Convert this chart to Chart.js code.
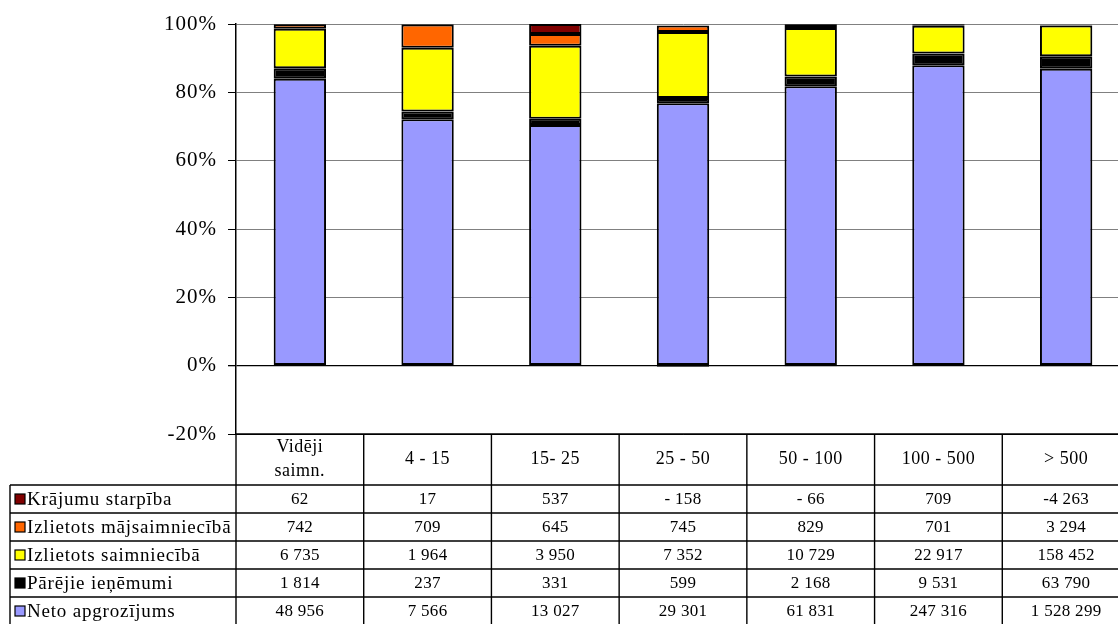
<!DOCTYPE html>
<html>
<head>
<meta charset="utf-8">
<script src="https://cdn.jsdelivr.net/npm/chart.js@4"></script>
<style>
html,body{margin:0;padding:0;background:#fff;overflow:hidden;width:1118px;height:624px;}
#wrap{position:relative;width:1130px;height:624px;}
</style>
</head>
<body>
<div id="wrap"><canvas id="c" width="1130" height="624"></canvas></div>
<script>
// ---- data ----
const categories = [['Vidēji', 'saimn.'], '4 - 15', '15- 25', '25 - 50', '50 - 100', '100 - 500', '> 500'];
const netoApgrozijums = [48956, 7566, 13027, 29301, 61831, 247316, 1528299];
const parejieIenemumi = [1814, 237, 331, 599, 2168, 9531, 63790];
const izlietotsSaimnieciba = [6735, 1964, 3950, 7352, 10729, 22917, 158452];
const izlietotsMajsaimnieciba = [742, 709, 645, 745, 829, 701, 3294];
const krajumuStarpiba = [62, 17, 537, -158, -66, 709, -4263];
const yTicks = [-20, 0, 20, 40, 60, 80, 100];

const seriesDefs = [
  { label: 'Neto apgrozījums', data: netoApgrozijums, color: '#9999FF' },
  { label: 'Pārējie ieņēmumi', data: parejieIenemumi, color: '#000000' },
  { label: 'Izlietots saimniecībā', data: izlietotsSaimnieciba, color: '#FFFF00' },
  { label: 'Izlietots mājsaimniecībā', data: izlietotsMajsaimnieciba, color: '#FF6600' },
  { label: 'Krājumu starpība', data: krajumuStarpiba, color: '#800000' }
];

// 100% stacking (share of the sum of absolute values)
const totals = categories.map((_, i) => seriesDefs.reduce((s, d) => s + Math.abs(d.data[i]), 0));

function fmt(v) {
  const a = Math.abs(v);
  const s = String(a).replace(/\B(?=(\d{3})+(?!\d))/g, ' ');
  if (v < 0) return (a >= 1000 ? '-' : '- ') + s;
  return s;
}

const FONT = '"Liberation Serif", "Times New Roman", serif';

const spacingPlugin = {
  id: 'spacing',
  beforeDraw(chart) { chart.ctx.letterSpacing = '1px'; },
  beforeDatasetsDraw(chart) { chart.ctx.letterSpacing = '0px'; }
};

const tablePlugin = {
  id: 'dataTable',
  afterDraw(chart) {
    const ctx = chart.ctx;
    const x = chart.scales.x;
    const area = chart.chartArea;
    const n = categories.length;
    const colW = (area.right - area.left) / n;
    const top = area.bottom;
    const headerBottom = top + 51;
    const rowH = 28;
    const leftX = 10;
    const bottom = chart.height + 2;
    ctx.save();
    ctx.letterSpacing = '0px';
    ctx.strokeStyle = '#000';
    ctx.lineWidth = 1.4;
    ctx.beginPath();
    ctx.moveTo(area.left, top); ctx.lineTo(area.right + 2, top);
    for (let r = 0; r <= seriesDefs.length; r++) {
      const y = headerBottom + r * rowH;
      ctx.moveTo(leftX, y); ctx.lineTo(area.right + 2, y);
    }
    ctx.moveTo(leftX, headerBottom); ctx.lineTo(leftX, bottom);
    for (let c = 0; c <= n; c++) {
      const xx = area.left + c * colW;
      ctx.moveTo(xx, top); ctx.lineTo(xx, bottom);
    }
    ctx.stroke();

    ctx.fillStyle = '#000';
    ctx.textAlign = 'center';
    ctx.textBaseline = 'middle';
    ctx.font = '18px ' + FONT;
    ctx.letterSpacing = '0.5px';
    categories.forEach((lab, i) => {
      const cx = x.getPixelForValue(i);
      const lines = Array.isArray(lab) ? lab : [lab];
      const lh = 24;
      const cy = (top + headerBottom) / 2;
      lines.forEach((l, k) => {
        ctx.fillText(l, cx, cy + (k - (lines.length - 1) / 2) * lh);
      });
    });
    const rows = seriesDefs.slice().reverse();
    rows.forEach((s, r) => {
      const cy = headerBottom + r * rowH + rowH / 2 + 1;
      ctx.fillStyle = s.color;
      ctx.fillRect(15, cy - 6, 10, 10);
      ctx.strokeStyle = '#000';
      ctx.lineWidth = 1.2;
      ctx.strokeRect(15, cy - 6, 10, 10);
      ctx.fillStyle = '#000';
      ctx.textAlign = 'left';
      ctx.font = '19px ' + FONT;
      ctx.letterSpacing = '0.8px';
      ctx.fillText(s.label, 27, cy);
      ctx.textAlign = 'center';
      ctx.font = '17px ' + FONT;
      ctx.letterSpacing = '0.3px';
      s.data.forEach((v, i) => {
        ctx.fillText(fmt(v), x.getPixelForValue(i), cy);
      });
    });
    ctx.restore();
  }
};

new Chart(document.getElementById('c'), {
  type: 'bar',
  data: {
    labels: categories,
    datasets: seriesDefs.map(d => ({
      label: d.label,
      data: d.data.map((v, i) => v / totals[i] * 100),
      backgroundColor: d.color,
      borderColor: '#000',
      borderWidth: 2,
      borderSkipped: false,
      barPercentage: 0.41,
      categoryPercentage: 1
    }))
  },
  options: {
    responsive: false,
    animation: false,
    devicePixelRatio: 1,
    layout: { padding: { top: 24, left: 0, right: 0, bottom: 0 } },
    plugins: { legend: { display: false }, tooltip: { enabled: false } },
    scales: {
      x: {
        stacked: true,
        grid: { display: false },
        border: { display: false },
        ticks: { display: false },
        afterFit(scale) { scale.height = 190; }
      },
      y: {
        stacked: true,
        min: -20,
        max: 100,
        afterBuildTicks(scale) { scale.ticks = yTicks.map(v => ({ value: v })); },
        ticks: {
          padding: 11,
          color: '#000',
          font: { family: FONT, size: 21 },
          callback: v => v + '%'
        },
        grid: {
          color: c => (c.tick && (c.tick.value === 0 || c.tick.value === -20)) ? '#000' : '#808080',
          lineWidth: c => (c.tick && c.tick.value === 0) ? 1.3 : 1,
          tickColor: '#000',
          tickLength: 8
        },
        border: { color: '#000', width: 1.5 },
        afterFit(scale) { scale.width = 236; }
      }
    }
  },
  plugins: [spacingPlugin, tablePlugin]
});
</script>
</body>
</html>
